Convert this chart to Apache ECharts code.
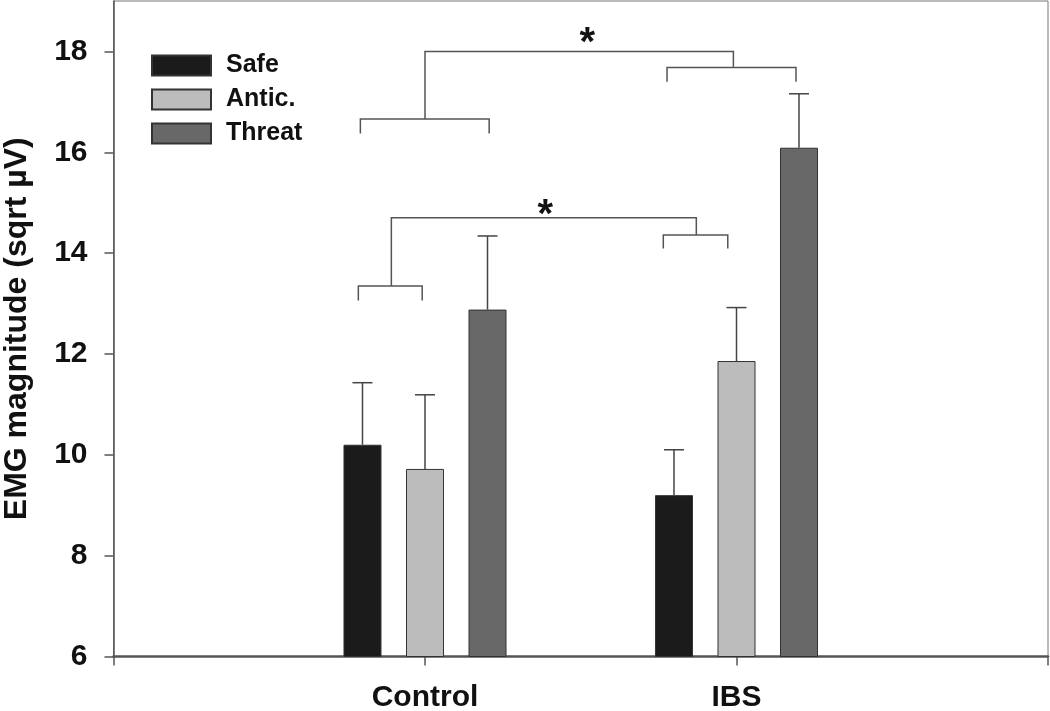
<!DOCTYPE html>
<html>
<head>
<meta charset="utf-8">
<script src="https://cdn.jsdelivr.net/npm/echarts@6/dist/echarts.min.js"></script>
<style>
html,body{margin:0;padding:0;background:#fff;}
#chart{width:1050px;height:711px;}
</style>
</head>
<body>
<div id="chart"></div>
<script>
// ---- data ----
const categories = ['', 'Control', 'IBS', ''];
const seriesNames = ['Safe', 'Antic.', 'Threat'];
const safe = [null, 10.20, 9.20, null];
const antic = [null, 9.72, 11.86, null];
const threat = [null, 12.88, 16.09, null];
// upper end of each error bar
const safeErrTop = [null, 11.43, 10.10, null];
const anticErrTop = [null, 11.19, 12.92, null];
const threatErrTop = [null, 14.34, 17.16, null];
const yTicks = [6, 8, 10, 12, 14, 16, 18];
// significance brackets (polylines in [x-position on 0..3 scale, y value])
const brackets = [
  [[0.7925, 16.37], [0.7925, 16.66], [1.206, 16.66], [1.206, 16.37]],
  [[1.0, 16.66], [1.0, 18.0], [1.99, 18.0], [1.99, 17.68]],
  [[1.777, 17.40], [1.777, 17.68], [2.191, 17.68], [2.191, 17.40]],
  [[0.786, 13.06], [0.786, 13.35], [0.991, 13.35], [0.991, 13.06]],
  [[0.892, 13.35], [0.892, 14.70], [1.871, 14.70], [1.871, 14.36]],
  [[1.765, 14.09], [1.765, 14.36], [1.972, 14.36], [1.972, 14.09]]
];
const stars = [[1.521, 18.33], [1.386, 14.91]];

// ---- styles ----
const FONT = '"Liberation Sans", Arial, sans-serif';
const colors = ['#1b1b1b', '#bcbcbc', '#686868'];
const BAR_W = 38;
const BAR_GAP = 0.645;
const AX = '#555';

const values = [safe, antic, threat];
const errTops = [safeErrTop, anticErrTop, threatErrTop];

const errData = [];
values.forEach((arr, s) => {
  arr.forEach((v, i) => {
    if (v != null) errData.push([i, s, errTops[s][i], v]);
  });
});

const chart = echarts.init(document.getElementById('chart'), null, {renderer: 'canvas'});

const barSeries = seriesNames.map((n, s) => ({
  name: n,
  type: 'bar',
  xAxisIndex: 0,
  data: values[s],
  barWidth: BAR_W,
  barGap: (BAR_GAP * 100) + '%',
  itemStyle: {color: colors[s], borderColor: '#333', borderWidth: 1},
  emphasis: {disabled: true},
  z: 2
}));

const option = {
  animation: false,
  backgroundColor: '#fff',
  color: colors,
  grid: {left: 113.5, right: 2, top: 1, bottom: 54.5, show: true, borderColor: '#777', borderWidth: 1,
         containLabel: false, outerBoundsMode: 'none'},
  legend: {
    left: 151, top: 53, orient: 'vertical', padding: 0,
    itemWidth: 59, itemHeight: 20, itemGap: 9,
    icon: 'rect',
    data: seriesNames,
    textStyle: {fontFamily: FONT, fontWeight: 'bold', fontSize: 25, color: '#111', lineHeight: 20, padding: [0, 0, 0, 10]},
    selectedMode: false
  },
  xAxis: [{
    type: 'category',
    data: categories,
    boundaryGap: false,
    axisLine: {lineStyle: {color: AX, width: 2.5}},
    axisTick: {show: true, interval: 0, length: 9, lineStyle: {color: AX, width: 1.5}},
    axisLabel: {interval: 0, margin: 26, fontFamily: FONT, fontWeight: 'bold', fontSize: 30, color: '#111'},
    splitLine: {show: false}
  }, {
    type: 'value', min: 0, max: 3, show: false
  }],
  yAxis: {
    type: 'value',
    min: 6, max: 19, interval: 2,
    name: 'EMG magnitude (sqrt µV)',
    nameLocation: 'middle',
    nameGap: 80,
    nameTextStyle: {fontFamily: FONT, fontWeight: 'bold', fontSize: 32, color: '#111'},
    axisLine: {show: true, lineStyle: {color: AX, width: 1.5}},
    axisTick: {show: true, length: 9, customValues: yTicks, lineStyle: {color: AX, width: 1.5}},
    axisLabel: {margin: 26, customValues: yTicks, fontFamily: FONT, fontWeight: 'bold', fontSize: 30, color: '#111'},
    splitLine: {show: false}
  },
  series: barSeries.concat([
    {
      type: 'custom',
      xAxisIndex: 0,
      silent: true,
      z: 3,
      data: errData,
      renderItem: function (params, api) {
        const ci = api.value(0), s = api.value(1);
        const off = (s - 1) * BAR_W * (1 + BAR_GAP);
        const top = api.coord([ci, api.value(2)]);
        const base = api.coord([ci, api.value(3)]);
        const x = top[0] + off;
        const st = {stroke: '#444', lineWidth: 1.5};
        return {type: 'group', children: [
          {type: 'line', shape: {x1: x, y1: base[1], x2: x, y2: top[1]}, style: st},
          {type: 'line', shape: {x1: x - 10, y1: top[1], x2: x + 10, y2: top[1]}, style: st}
        ]};
      }
    },
    {
      type: 'custom',
      xAxisIndex: 1,
      silent: true,
      z: 3,
      data: brackets.map((b, i) => [i]),
      renderItem: function (params, api) {
        const b = brackets[api.value(0)];
        const pts = b.map(p => api.coord(p));
        return {type: 'polyline', shape: {points: pts}, style: {stroke: '#555', lineWidth: 1.5, fill: null}};
      }
    },
    {
      type: 'custom',
      xAxisIndex: 1,
      silent: true,
      z: 3,
      data: stars,
      renderItem: function (params, api) {
        const p = api.coord([api.value(0), api.value(1)]);
        return {type: 'text', x: p[0], y: p[1] + 9, style: {text: '*', fontFamily: FONT, fontWeight: 'bold', fontSize: 40, fill: '#111', align: 'center', verticalAlign: 'middle'}};
      }
    }
  ])
};
chart.setOption(option);
</script>
</body>
</html>
